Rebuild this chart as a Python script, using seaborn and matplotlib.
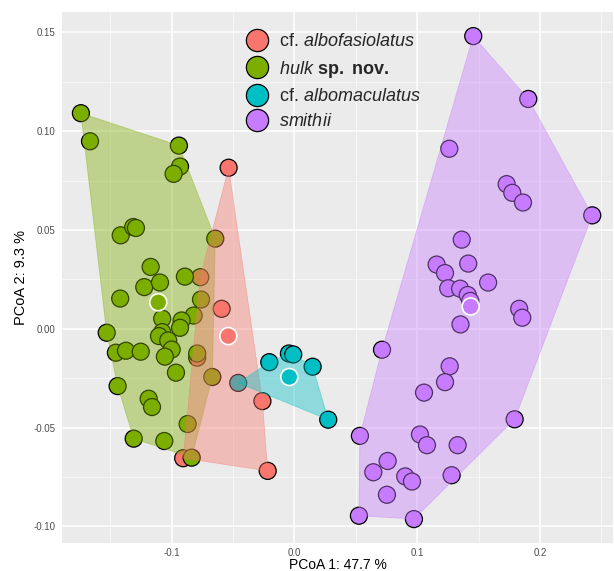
import numpy as np
import pandas as pd
import seaborn as sns
import matplotlib.pyplot as plt
from matplotlib.lines import Line2D

# PCoA scores
albofasiolatus_x = [-0.0536, -0.0767, -0.0593, -0.0792, -0.0261, -0.0218, -0.0906]
albofasiolatus_y = [0.0815, 0.0261, 0.0101, -0.0146, -0.0366, -0.0719, -0.0655]

hulk_x = [-0.1739, -0.1665, -0.0941, -0.0932, -0.0984, -0.0645, -0.1415, -0.1313,
          -0.1291, -0.1171, -0.1223, -0.1095, -0.0892, -0.1419, -0.0761, -0.0821,
          -0.1077, -0.0919, -0.0932, -0.1529, -0.1077, -0.1103, -0.1028, -0.1000,
          -0.1055, -0.1454, -0.1372, -0.1252, -0.0792, -0.0965, -0.0669, -0.1440,
          -0.1187, -0.1160, -0.0870, -0.1309, -0.1060, -0.0837]
hulk_y = [0.1091, 0.0949, 0.0927, 0.0821, 0.0784, 0.0456, 0.0473, 0.0515,
          0.0510, 0.0313, 0.0211, 0.0234, 0.0264, 0.0153, 0.0148, 0.0067,
          0.0051, 0.0042, 0.0005, -0.0020, -0.0017, -0.0037, -0.0059, -0.0105,
          -0.0141, -0.0121, -0.0111, -0.0116, -0.0125, -0.0222, -0.0244, -0.0290,
          -0.0354, -0.0396, -0.0482, -0.0556, -0.0568, -0.0652]

albomaculatus_x = [-0.0458, -0.0205, -0.0045, -0.0010, 0.0148, 0.0275]
albomaculatus_y = [-0.0274, -0.0169, -0.0125, -0.0130, -0.0192, -0.0460]

smithii_x = [0.1456, 0.1904, 0.1261, 0.1728, 0.1774, 0.1861, 0.2425, 0.1362,
             0.1158, 0.1226, 0.1415, 0.1577, 0.1252, 0.1349, 0.1411, 0.1432,
             0.1830, 0.1855, 0.1352, 0.0713, 0.1264, 0.1226, 0.1055, 0.1793,
             0.0533, 0.1022, 0.1079, 0.1329, 0.0759, 0.0642, 0.0902, 0.0957,
             0.1280, 0.0753, 0.0525, 0.0973]
smithii_y = [0.1481, 0.1163, 0.0911, 0.0732, 0.0688, 0.0639, 0.0574, 0.0451,
             0.0325, 0.0282, 0.0330, 0.0234, 0.0205, 0.0203, 0.0171, 0.0141,
             0.0101, 0.0056, 0.0022, -0.0106, -0.0190, -0.0270, -0.0323, -0.0458,
             -0.0542, -0.0535, -0.0589, -0.0589, -0.0669, -0.0726, -0.0747, -0.0773,
             -0.0741, -0.0840, -0.0946, -0.0963]

groups = ["albofasiolatus", "hulk", "albomaculatus", "smithii"]
centroid_x = [-0.0539, -0.1109, -0.0042, 0.1435]
centroid_y = [-0.0037, 0.0134, -0.0244, 0.0113]

legend_labels = ["cf. $\\mathit{albofasiolatus}$",
                 "$\\mathit{hulk}$ $\\mathbf{sp.}$ $\\mathbf{nov.}$",
                 "cf. $\\mathit{albomaculatus}$",
                 "$\\mathit{smithii}$"]
colors = ["#F8766D", "#7CAE00", "#00BFC4", "#C77CFF"]


def convex_hull(pts):
    # monotone chain
    pts = sorted(set(pts))
    def cross(o, a, b):
        return (a[0] - o[0]) * (b[1] - o[1]) - (a[1] - o[1]) * (b[0] - o[0])
    lower, upper = [], []
    for p in pts:
        while len(lower) >= 2 and cross(lower[-2], lower[-1], p) <= 0:
            lower.pop()
        lower.append(p)
    for p in reversed(pts):
        while len(upper) >= 2 and cross(upper[-2], upper[-1], p) <= 0:
            upper.pop()
        upper.append(p)
    return np.array(lower[:-1] + upper[:-1])


xs = [albofasiolatus_x, hulk_x, albomaculatus_x, smithii_x]
ys = [albofasiolatus_y, hulk_y, albomaculatus_y, smithii_y]
df = pd.concat([pd.DataFrame({"x": x, "y": y, "group": g}) for x, y, g in zip(xs, ys, groups)],
               ignore_index=True)
cent = pd.DataFrame({"x": centroid_x, "y": centroid_y, "group": groups})
palette = dict(zip(groups, colors))

sns.set_theme(style="darkgrid")
plt.rcParams["font.family"] = ["Liberation Sans", "DejaVu Sans"]
plt.rcParams["mathtext.fontset"] = "custom"
plt.rcParams["mathtext.rm"] = "Liberation Sans"
plt.rcParams["mathtext.it"] = "Liberation Sans:italic"
plt.rcParams["mathtext.bf"] = "Liberation Sans:bold"

fig = plt.figure(figsize=(6.14, 5.71), dpi=100)
ax = fig.add_axes([62 / 614, 28 / 571, 551 / 614, 531 / 571])
ax.set_facecolor("#EBEBEB")

sns.scatterplot(data=df, x="x", y="y", hue="group", palette=palette, s=150,
                edgecolor="black", linewidth=0.9, alpha=1, legend=False, ax=ax, zorder=2)

# hulls drawn on top of the points (green first so red overlays it)
for i in [1, 0, 2, 3]:
    hull = convex_hull(list(zip(xs[i], ys[i])))
    ax.fill(hull[:, 0], hull[:, 1], facecolor=colors[i], alpha=0.4, zorder=3,
            edgecolor=colors[i], linewidth=0.6)

sns.scatterplot(data=cent, x="x", y="y", hue="group", palette=palette, s=150,
                edgecolor="white", linewidth=1.2, legend=False, ax=ax, zorder=4)

ax.set_xlim(-0.1893, 0.2594)
ax.set_ylim(-0.1084, 0.1603)
ax.set_xticks([-0.1, 0.0, 0.1, 0.2])
ax.set_xticklabels(["-0.1", "0.0", "0.1", "0.2"])
ax.set_yticks([-0.10, -0.05, 0.0, 0.05, 0.10, 0.15])
ax.set_yticklabels(["-0.10", "-0.05", "0.00", "0.05", "0.10", "0.15"])
ax.set_xticks([-0.15, -0.05, 0.05, 0.15, 0.25], minor=True)
ax.set_yticks([-0.075, -0.025, 0.025, 0.075, 0.125], minor=True)
ax.grid(which="major", color="white", linewidth=1.1)
ax.grid(which="minor", color="white", linewidth=0.5, alpha=0.8)
ax.tick_params(which="major", length=3, width=0.6, color="#333333",
               labelsize=7, labelcolor="#4D4D4D", pad=1.5)
ax.tick_params(axis="x", which="major", pad=0.5)
ax.tick_params(which="minor", length=0)
ax.set_axisbelow(True)
for sp in ax.spines.values():
    sp.set_visible(False)

ax.set_xlabel("PCoA 1: 47.7 %", fontsize=10, color="black", labelpad=0)
ax.set_ylabel("PCoA 2: 9.3 %", fontsize=10.5, color="black", labelpad=4)

handles = [Line2D([0], [0], marker="o", linestyle="", markersize=16,
                  markerfacecolor=c, markeredgecolor="black", markeredgewidth=0.9)
           for c in colors]
leg = ax.legend(handles, legend_labels, loc="upper left",
                bbox_to_anchor=(238 / 614, 1 - 26 / 571), bbox_transform=fig.transFigure,
                frameon=False, fontsize=13, labelspacing=0.46, handletextpad=0.55,
                borderaxespad=0, handlelength=1.3)

fig.savefig("out.png", dpi=100)
